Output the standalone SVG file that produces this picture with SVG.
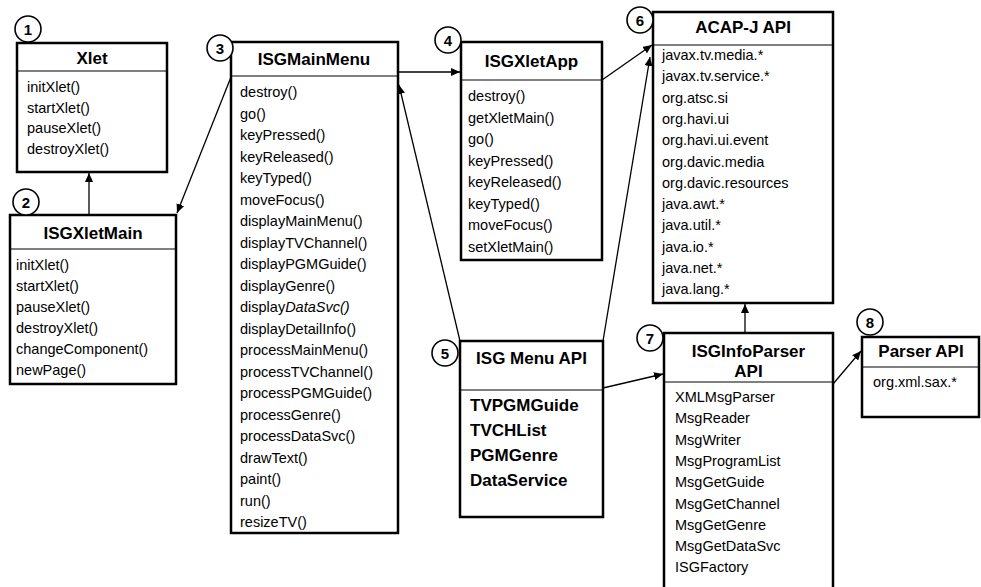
<svg xmlns="http://www.w3.org/2000/svg" width="981" height="587" viewBox="0 0 981 587">
<style>
.box{fill:#fff;stroke:#000;stroke-width:2.5}
.div{stroke:#000;stroke-width:1.2}
.t{font-family:"Liberation Sans",Arial,sans-serif;font-size:17px;font-weight:bold;text-anchor:middle;fill:#000}
.i{font-family:"Liberation Sans",Arial,sans-serif;font-size:14.5px;fill:#000}
.b{font-family:"Liberation Sans",Arial,sans-serif;font-size:17px;font-weight:bold;fill:#000}
.c{fill:#fff;stroke:#000;stroke-width:1.6}
.n{font-family:"Liberation Sans",Arial,sans-serif;font-size:15px;font-weight:bold;text-anchor:middle;fill:#000}
.con{fill:none;stroke:#000;stroke-width:1.3}
</style>
<defs>
<marker id="ah" markerUnits="userSpaceOnUse" markerWidth="10" markerHeight="8" refX="9" refY="4" orient="auto">
<path d="M0,0 L9,4 L0,8 z" fill="#000"/>
</marker>
</defs>
<rect width="981" height="587" fill="#fff"/>

<g id="connectors">
<line class="con" x1="89" y1="215" x2="89" y2="173" marker-end="url(#ah)"/>
<line class="con" x1="231" y1="77" x2="177" y2="213" marker-end="url(#ah)"/>
<line class="con" x1="398" y1="72" x2="460" y2="72" marker-end="url(#ah)"/>
<line class="con" x1="460" y1="341" x2="399" y2="85" marker-end="url(#ah)"/>
<line class="con" x1="602" y1="80" x2="652" y2="45" marker-end="url(#ah)"/>
<line class="con" x1="603" y1="341" x2="650" y2="57" marker-end="url(#ah)"/>
<line class="con" x1="603" y1="388" x2="663" y2="374" marker-end="url(#ah)"/>
<line class="con" x1="745" y1="333" x2="745" y2="304" marker-end="url(#ah)"/>
<line class="con" x1="833" y1="384" x2="861" y2="351" marker-end="url(#ah)"/>
</g>

<g id="node1">
<rect class="box" x="17" y="43" width="150" height="129"/>
<line class="div" x1="17" y1="71" x2="167" y2="71"/>
<text class="t" x="92" y="64">Xlet</text>
<text class="i" x="27" y="92">initXlet()</text>
<text class="i" x="27" y="113">startXlet()</text>
<text class="i" x="27" y="133">pauseXlet()</text>
<text class="i" x="27" y="154">destroyXlet()</text>
<circle class="c" cx="28" cy="29" r="13"/>
<text class="n" x="28" y="34.5">1</text>
</g>

<g id="node2">
<rect class="box" x="10" y="215" width="166" height="169"/>
<line class="div" x1="10" y1="249" x2="176" y2="249"/>
<text class="t" x="93" y="239">ISGXletMain</text>
<text class="i" x="16" y="270">initXlet()</text>
<text class="i" x="16" y="291">startXlet()</text>
<text class="i" x="16" y="312">pauseXlet()</text>
<text class="i" x="16" y="333">destroyXlet()</text>
<text class="i" x="16" y="354">changeComponent()</text>
<text class="i" x="16" y="375">newPage()</text>
<circle class="c" cx="26" cy="202" r="13"/>
<text class="n" x="26" y="207.5">2</text>
</g>

<g id="node3">
<rect class="box" x="231" y="42" width="167" height="491"/>
<line class="div" x1="231" y1="76" x2="398" y2="76"/>
<text class="t" x="314" y="65">ISGMainMenu</text>
<text class="i" x="240" y="97">destroy()</text>
<text class="i" x="240" y="118.5">go()</text>
<text class="i" x="240" y="140">keyPressed()</text>
<text class="i" x="240" y="161.5">keyReleased()</text>
<text class="i" x="240" y="183">keyTyped()</text>
<text class="i" x="240" y="204.5">moveFocus()</text>
<text class="i" x="240" y="226">displayMainMenu()</text>
<text class="i" x="240" y="247.5">displayTVChannel()</text>
<text class="i" x="240" y="269">displayPGMGuide()</text>
<text class="i" x="240" y="290.5">displayGenre()</text>
<text class="i" x="240" y="312">display<tspan font-style="italic">DataSvc()</tspan></text>
<text class="i" x="240" y="333.5">displayDetailInfo()</text>
<text class="i" x="240" y="355">processMainMenu()</text>
<text class="i" x="240" y="376.5">processTVChannel()</text>
<text class="i" x="240" y="398">processPGMGuide()</text>
<text class="i" x="240" y="419.5">processGenre()</text>
<text class="i" x="240" y="441">processDataSvc()</text>
<text class="i" x="240" y="462.5">drawText()</text>
<text class="i" x="240" y="484">paint()</text>
<text class="i" x="240" y="505.5">run()</text>
<text class="i" x="240" y="527">resizeTV()</text>
<circle class="c" cx="220" cy="48" r="13"/>
<text class="n" x="220" y="53.5">3</text>
</g>

<g id="node4">
<rect class="box" x="461" y="42" width="141" height="218"/>
<line class="div" x1="461" y1="80" x2="602" y2="80"/>
<text class="t" x="531.5" y="67">ISGXletApp</text>
<text class="i" x="468" y="101">destroy()</text>
<text class="i" x="468" y="122.5">getXletMain()</text>
<text class="i" x="468" y="144">go()</text>
<text class="i" x="468" y="165.5">keyPressed()</text>
<text class="i" x="468" y="187">keyReleased()</text>
<text class="i" x="468" y="208.5">keyTyped()</text>
<text class="i" x="468" y="230">moveFocus()</text>
<text class="i" x="468" y="251.5">setXletMain()</text>
<circle class="c" cx="448" cy="40" r="13"/>
<text class="n" x="448" y="45.5">4</text>
</g>

<g id="node6">
<rect class="box" x="653" y="12" width="180" height="291"/>
<line class="div" x1="653" y1="45" x2="833" y2="45"/>
<text class="t" x="743" y="33">ACAP-J API</text>
<text class="i" x="662" y="60">javax.tv.media.*</text>
<text class="i" x="662" y="81.3">javax.tv.service.*</text>
<text class="i" x="662" y="102.6">org.atsc.si</text>
<text class="i" x="662" y="123.9">org.havi.ui</text>
<text class="i" x="662" y="145.2">org.havi.ui.event</text>
<text class="i" x="662" y="166.5">org.davic.media</text>
<text class="i" x="662" y="187.8">org.davic.resources</text>
<text class="i" x="662" y="209.1">java.awt.*</text>
<text class="i" x="662" y="230.4">java.util.*</text>
<text class="i" x="662" y="251.7">java.io.*</text>
<text class="i" x="662" y="273">java.net.*</text>
<text class="i" x="662" y="294.3">java.lang.*</text>
<circle class="c" cx="640" cy="20" r="13"/>
<text class="n" x="640" y="25.5">6</text>
</g>

<g id="node5">
<rect class="box" x="460" y="341" width="143" height="176"/>
<line class="div" x1="460" y1="390" x2="603" y2="390"/>
<text class="t" x="531.5" y="364">ISG Menu API</text>
<text class="b" x="470" y="411">TVPGMGuide</text>
<text class="b" x="470" y="436">TVCHList</text>
<text class="b" x="470" y="461">PGMGenre</text>
<text class="b" x="470" y="486">DataService</text>
<circle class="c" cx="445" cy="353" r="13"/>
<text class="n" x="445" y="358.5">5</text>
</g>

<g id="node7">
<rect class="box" x="664" y="333" width="169" height="270"/>
<line class="div" x1="664" y1="382" x2="833" y2="382"/>
<text class="t" x="748.5" y="357">ISGInfoParser</text>
<text class="t" x="748.5" y="377">API</text>
<text class="i" x="675" y="402">XMLMsgParser</text>
<text class="i" x="675" y="423.3">MsgReader</text>
<text class="i" x="675" y="444.6">MsgWriter</text>
<text class="i" x="675" y="465.9">MsgProgramList</text>
<text class="i" x="675" y="487.2">MsgGetGuide</text>
<text class="i" x="675" y="508.5">MsgGetChannel</text>
<text class="i" x="675" y="529.8">MsgGetGenre</text>
<text class="i" x="675" y="551.1">MsgGetDataSvc</text>
<text class="i" x="675" y="572.4">ISGFactory</text>
<circle class="c" cx="650" cy="338" r="13"/>
<text class="n" x="650" y="343.5">7</text>
</g>

<g id="node8">
<rect class="box" x="862" y="337" width="117" height="80"/>
<line class="div" x1="862" y1="367" x2="979" y2="367"/>
<text class="t" x="921" y="357">Parser API</text>
<text class="i" x="873" y="387">org.xml.sax.*</text>
<circle class="c" cx="870" cy="322" r="13"/>
<text class="n" x="870" y="327.5">8</text>
</g>
</svg>
